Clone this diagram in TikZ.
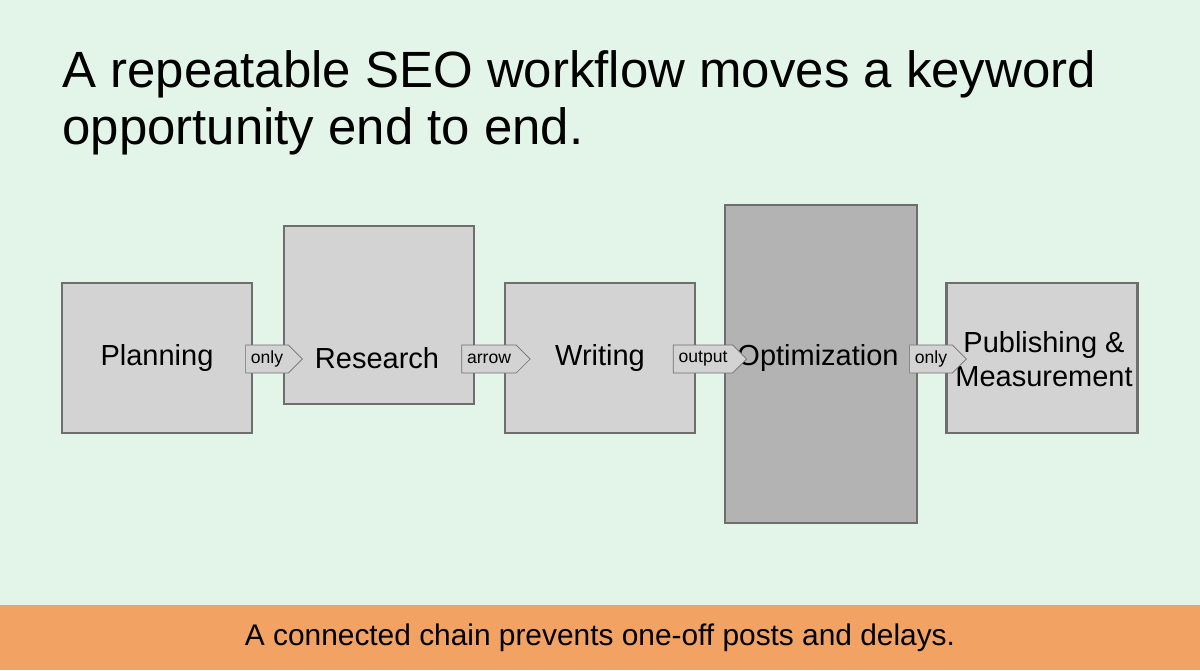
\documentclass[tikz,border=0pt]{standalone}
\usepackage{fontspec}
\setmainfont{Liberation Sans}
\usetikzlibrary{shapes.symbols}
\definecolor{bgmint}{HTML}{E2F5E8}
\definecolor{barorange}{HTML}{F2A262}
\definecolor{stepgray}{HTML}{D3D3D3}
\definecolor{stepdark}{HTML}{B3B3B3}
\definecolor{edgegray}{HTML}{6E6E6E}
\tikzset{
  stage/.style={draw=edgegray, line width=1.2pt, fill=stepgray},
  stagetext/.style={font=\fontsize{16.5}{19}\selectfont, align=center, inner sep=1pt},
  tag/.style={signal, signal to=east, draw=edgegray, fill=stepgray, font=\fontsize{10}{12}\selectfont, minimum height=0.56cm, inner xsep=3pt}
}
\begin{document}
\begin{tikzpicture}[x=0.02cm,y=-0.02cm]
        % Background and bottom bar
        \useasboundingbox (0,0) rectangle (1200,670);
        \fill[bgmint] (0,0) rectangle (1200,670);
        \fill[barorange] (0,605) rectangle (1200,670);
        \node[font=\fontsize{17}{20}\selectfont] (note) at (600,638) {A connected chain prevents one-off posts and delays.};

        % Title
        \node[anchor=north west, align=left, font=\fontsize{29}{32.5}\selectfont, inner sep=0pt] (title) at (62,50)
          {A repeatable SEO workflow moves a keyword\\opportunity end to end.};

        % Steps of the workflow
        \node[stage, minimum width=3.8cm, minimum height=3cm] (plan) at (157,358) {};
        \node[stage, minimum width=3.8cm, minimum height=3.56cm] (research) at (379,315) {};
        \node[stage, minimum width=3.8cm, minimum height=3cm] (write) at (600,358) {};
        \node[stage, fill=stepdark, minimum width=3.84cm, minimum height=6.36cm] (optim) at (821,364) {};
        \node[stage, minimum width=3.82cm, minimum height=3cm] (publish) at (1042,358) {};

        \node[stagetext] at (157,358) {Planning};
        \node[stagetext] at (377,358) {Research};
        \node[stagetext] at (600,358) {Writing};
        \node[stagetext] at (818,358) {Optimization};
        \node[stagetext] at (1044,359) {Publishing \&\\Measurement};

        % Connectors between steps
        \node[tag] (t1) at (267,359) {only};
        \node[tag] (t2) at (489,359) {arrow};
        \node[tag] (t3) at (703,359) {output};
        \node[tag] (t4) at (931,359) {only};
\end{tikzpicture}
\end{document}
